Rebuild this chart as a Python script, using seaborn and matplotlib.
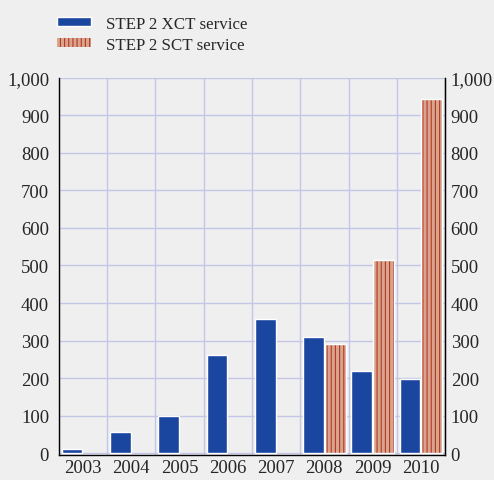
import numpy as np
import pandas as pd
import matplotlib
matplotlib.use("Agg")
import matplotlib.pyplot as plt
from matplotlib.patches import Rectangle
from matplotlib.ticker import FuncFormatter, MultipleLocator
import seaborn as sns

years = ['2003', '2004', '2005', '2006', '2007', '2008', '2009', '2010']
xct = [10, 55, 100, 262, 358, 310, 220, 198]
sct = [np.nan, np.nan, np.nan, np.nan, np.nan, 290, 515, 944]
series = ['STEP 2 XCT service', 'STEP 2 SCT service']

df = pd.DataFrame({
    'year': years * 2,
    'value': xct + sct,
    'series': [series[0]] * len(years) + [series[1]] * len(years),
})

bg = '#efefef'
blue = '#1b46a0'
salmon = '#d9a48c'
stripe = '#b5392a'
grid_col = '#c3c6e6'

sns.set_style('white')
plt.rcParams['font.family'] = ['Liberation Serif', 'DejaVu Serif']
plt.rcParams['hatch.linewidth'] = 0.8

fig = plt.figure(figsize=(4.94, 4.81), dpi=100, facecolor=bg)
ax = fig.add_axes([0.119, 0.052, 0.782, 0.784])
ax.set_facecolor(bg)

sns.barplot(data=df, x='year', y='value', hue='series', order=years,
            hue_order=series, palette=[blue, salmon], width=0.9,
            gap=0.05, ax=ax, legend=False, saturation=1)

n = len(years)
for i, p in enumerate(list(ax.patches)):
    if i < n:
        p.set_edgecolor('white')
        p.set_linewidth(1.0)
    else:
        p.set_hatch('||||')
        p.set_edgecolor(stripe)
        p.set_linewidth(0)
        # white outline on top of the striped bar
        ax.add_patch(Rectangle(p.get_xy(), p.get_width(), p.get_height(),
                               fill=False, edgecolor='white', linewidth=1.0))

ax.set_xlim(-0.5, n - 0.5)
ax.set_ylim(-5, 1000)
ax.yaxis.set_major_locator(MultipleLocator(100))
fmt = FuncFormatter(lambda v, pos: f'{int(v):,}')
ax.yaxis.set_major_formatter(fmt)

ax.set_xticks(np.arange(-0.5, n, 1.0), minor=True)
ax.tick_params(axis='x', which='major', length=0, labelsize=13.5, pad=3)
ax.tick_params(axis='x', which='minor', length=5, width=1, color='black', direction='out')
ax.tick_params(axis='y', length=0, labelsize=13.5, pad=7)
ax.set_xlabel('')
ax.set_ylabel('')

ax.set_axisbelow(True)
ax.grid(axis='y', which='major', color=grid_col, linewidth=1)
ax.grid(axis='x', which='minor', color=grid_col, linewidth=1)
ax.grid(axis='x', which='major', visible=False)

for s in ['left', 'right', 'bottom']:
    ax.spines[s].set_visible(True)
    ax.spines[s].set_color('black')
    ax.spines[s].set_linewidth(1)
ax.spines['top'].set_visible(False)

ax2 = ax.twinx()
ax2.set_ylim(ax.get_ylim())
ax2.yaxis.set_major_locator(MultipleLocator(100))
ax2.yaxis.set_major_formatter(fmt)
ax2.tick_params(axis='y', length=0, labelsize=13.5, pad=4)
for s in ['left', 'top', 'bottom']:
    ax2.spines[s].set_visible(False)
ax2.spines['right'].set_visible(True)
ax2.spines['right'].set_color('black')

h1 = Rectangle((0, 0), 1, 1, facecolor=blue, edgecolor='white', linewidth=1)
h2 = Rectangle((0, 0), 1, 1, facecolor=salmon, edgecolor=stripe, linewidth=0, hatch='||||')
fig.legend([h1, h2], series, loc='upper left', bbox_to_anchor=(0.084, 0.997),
           frameon=False, fontsize=12.2, handlelength=2.0, handleheight=0.45,
           labelspacing=0.3, handletextpad=0.9)

fig.savefig('out.png', dpi=100, facecolor=bg)
